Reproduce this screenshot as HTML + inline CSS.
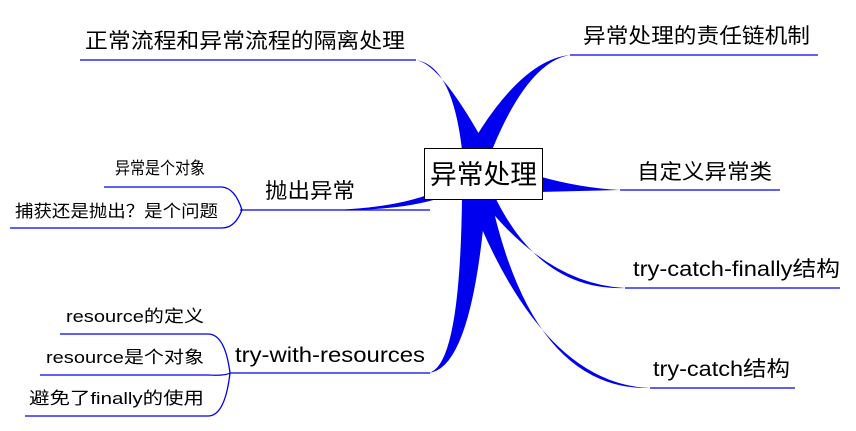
<!DOCTYPE html>
<html><head><meta charset="utf-8"><style>
body{margin:0;background:#fff;width:856px;height:426px;overflow:hidden}
svg text{font-family:"Liberation Sans","Noto Sans CJK SC",sans-serif;fill:#000}
</style></head><body>
<svg width="856" height="426" viewBox="0 0 856 426">
<g fill="#0000ee" stroke="none">
<path d="M462 150 Q452 64 415 60 Q440 62 488 150 Z"/>
<path d="M468 150 Q520 60 570 55 Q528 62 492 150 Z"/>
<path d="M538 176 Q580 188 620 190 Q580 191 538 192 Z"/>
<path d="M478 195 Q545 284 625 288 Q540 291 494 195 Z"/>
<path d="M468 195 Q540 384 650 388 Q532 391 490 195 Z"/>
<path d="M440 190 Q400 208 330 210 Q400 211 440 198 Z"/>
<path d="M462 198 Q460 368 428 373 Q472 370 486 198 Z"/>
</g>
<g fill="none" stroke="#0000ee" stroke-width="1.3">
<line x1="80" y1="60" x2="416" y2="60"/>
<line x1="570" y1="55" x2="818" y2="55"/>
<line x1="620" y1="190" x2="780" y2="190"/>
<line x1="625" y1="288" x2="840" y2="288"/>
<line x1="650" y1="388" x2="795" y2="388"/>
<line x1="240" y1="210" x2="430" y2="210"/>
<path d="M242 210 Q235 188 222 187 L104 187"/>
<path d="M242 210 Q235 228 222 228 L10 228"/>
<line x1="230" y1="373" x2="430" y2="373"/>
<path d="M230 373 Q225 334 208 334 L60 334"/>
<path d="M230 373 Q225 376 208 375 L40 375"/>
<path d="M230 373 Q225 416 208 416 L25 416"/>
</g>
<rect x="424.5" y="148.5" width="118" height="51" fill="#fff" stroke="#000" stroke-width="1"/>
<text x="430" y="184" font-size="27" textLength="107" lengthAdjust="spacingAndGlyphs">异常处理</text>
<g font-size="21" lengthAdjust="spacingAndGlyphs">
<text x="85" y="48" textLength="320" lengthAdjust="spacingAndGlyphs">正常流程和异常流程的隔离处理</text>
<text x="583" y="43" textLength="227" lengthAdjust="spacingAndGlyphs">异常处理的责任链机制</text>
<text x="637" y="179" textLength="135" lengthAdjust="spacingAndGlyphs">自定义异常类</text>
<text x="633" y="276" textLength="207" lengthAdjust="spacingAndGlyphs">try-catch-finally结构</text>
<text x="653" y="376" textLength="137" lengthAdjust="spacingAndGlyphs">try-catch结构</text>
<text x="265" y="198" textLength="90" lengthAdjust="spacingAndGlyphs">抛出异常</text>
<text x="235" y="362" textLength="190" lengthAdjust="spacingAndGlyphs">try-with-resources</text>
</g>
<g font-size="17">
<text x="115" y="174" textLength="90" lengthAdjust="spacingAndGlyphs">异常是个对象</text>
<text x="15" y="217" textLength="203" lengthAdjust="spacingAndGlyphs">捕获还是抛出？是个问题</text>
<text x="66" y="322" textLength="138" lengthAdjust="spacingAndGlyphs">resource的定义</text>
<text x="46" y="363" textLength="158" lengthAdjust="spacingAndGlyphs">resource是个对象</text>
<text x="29" y="404" textLength="175" lengthAdjust="spacingAndGlyphs">避免了finally的使用</text>
</g>
</svg>
</body></html>
